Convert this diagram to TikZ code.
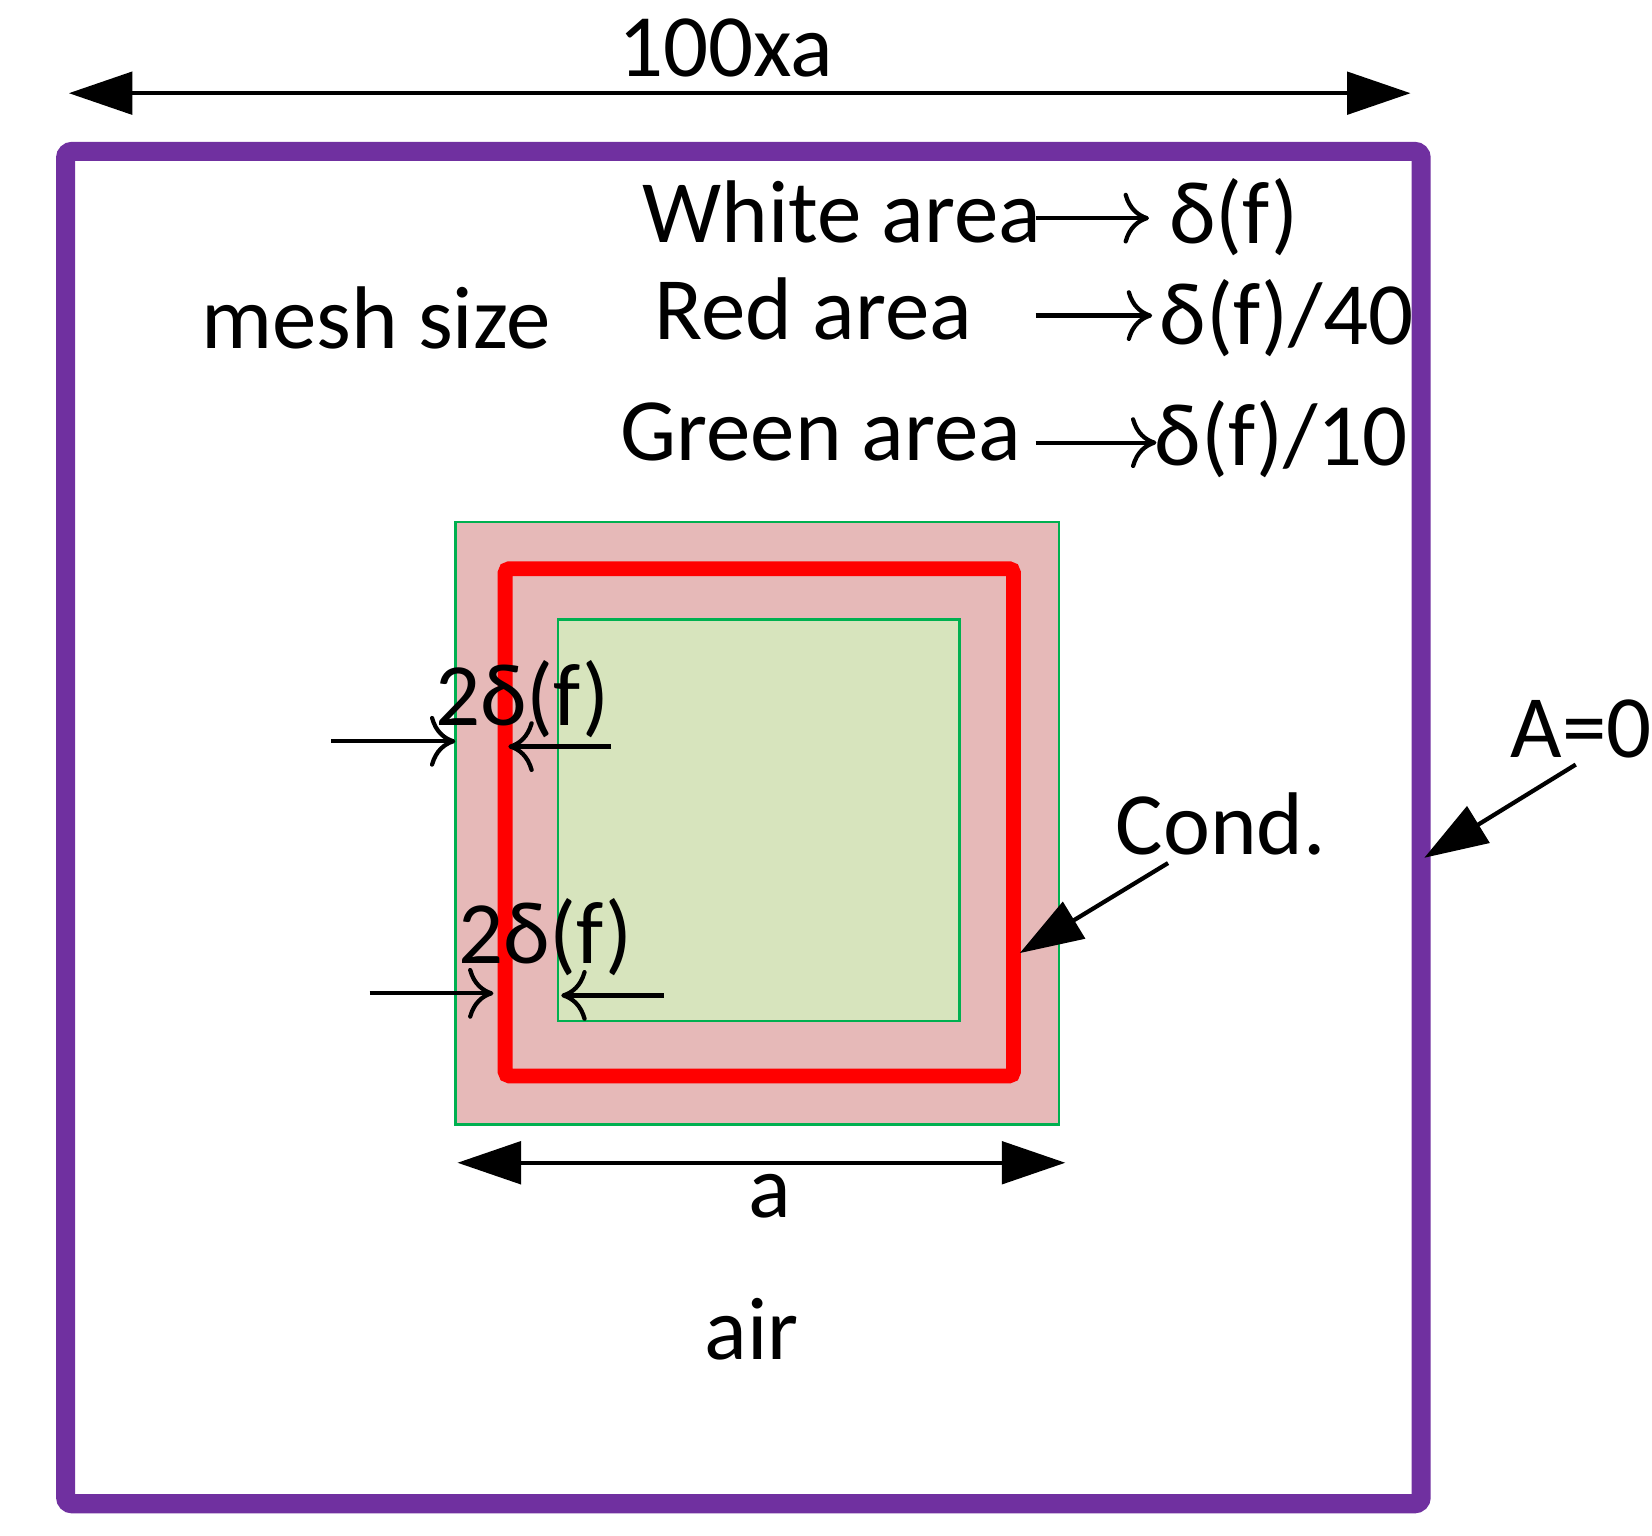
\documentclass[tikz,border=0pt]{standalone}
\usepackage{fontspec}
\setmainfont{Carlito}
\usetikzlibrary{positioning,arrows.meta}
\definecolor{bordpurple}{RGB}{112,48,160}
\definecolor{redfill}{RGB}{230,185,184}
\definecolor{greenfill}{RGB}{215,228,189}
\definecolor{greenline}{RGB}{0,176,80}
\tikzset{
  lbl/.style={font=\fontsize{42}{50}\selectfont, inner sep=0pt},
  small arrow/.style={line width=2pt, -{To[length=12pt,width=24pt]}},
  big arrow/.style={line width=2pt, -{Triangle[length=30pt,width=20pt]}},
  dim arrow/.style={line width=2pt, {Triangle[length=30pt,width=20pt]}-{Triangle[length=30pt,width=20pt]}}
}
\begin{document}
\begin{tikzpicture}[x=0.5pt,y=-0.5pt]
\useasboundingbox (0,0) rectangle (1560,1450);

% outer domain
\draw[bordpurple, line width=9pt, rounded corners=3pt] (62,143) rectangle (1342,1420);
\coordinate (dimL) at (65,88);
\coordinate (dimR) at (1332,88);
\draw[dim arrow] (dimL) -- (dimR);
\node[lbl] (width) at (685,45) {100xa};

% mesh size legend
\node[lbl] (mesh) at (355,300) {mesh size};
\node[lbl] (white) at (795,200) {White area};
\node[lbl] (red) at (768,292) {Red area};
\node[lbl] (green) at (775,408) {Green area};
\node[lbl] (whiteval) at (1165,205) {δ(f)};
\node[lbl] (redval) at (1215,300) {δ(f)/40};
\node[lbl] (greenval) at (1210,415) {δ(f)/10};
\coordinate (w1) at (978,206); \coordinate (w2) at (1085,206);
\coordinate (r1) at (978,298); \coordinate (r2) at (1088,298);
\coordinate (g1) at (978,418); \coordinate (g2) at (1092,418);
\draw[small arrow] (w1) -- (w2);
\draw[small arrow] (r1) -- (r2);
\draw[small arrow] (g1) -- (g2);

% conductor regions
\draw[greenline, fill=redfill, line width=1.2pt] (430,493) rectangle (1000,1062);
\draw[red, line width=7pt, rounded corners=2pt] (477,537) rectangle (957,1016);
\draw[greenline, fill=greenfill, line width=1.2pt] (527,585) rectangle (906,964);

% skin depth marks
\node[lbl] (skin1) at (493,660) {2δ(f)};
\node[lbl] (skin2) at (515,885) {2δ(f)};
\coordinate (s1a) at (313,700); \coordinate (s1b) at (430,700);
\coordinate (s1c) at (577,705); \coordinate (s1d) at (480,705);
\coordinate (s2a) at (349,938); \coordinate (s2b) at (466,938);
\coordinate (s2c) at (627,940); \coordinate (s2d) at (530,940);
\draw[small arrow] (s1a) -- (s1b);
\draw[small arrow] (s1c) -- (s1d);
\draw[small arrow] (s2a) -- (s2b);
\draw[small arrow] (s2c) -- (s2d);

% labels with pointers
\node[lbl] (cond) at (1153,778) {Cond.};
\coordinate (condtail) at (1103,815); \coordinate (condtip) at (963,900);
\draw[big arrow] (condtail) -- (condtip);
\node[lbl] (bc) at (1493,688) {A=0};
\coordinate (bctail) at (1488,722); \coordinate (bctip) at (1345,810);
\draw[big arrow] (bctail) -- (bctip);

\coordinate (aL) at (432,1098); \coordinate (aR) at (1006,1098);
\draw[dim arrow] (aL) -- (aR);
\node[lbl] (side) at (727,1130) {a};
\node[lbl] (air) at (710,1255) {air};
\end{tikzpicture}
\end{document}
